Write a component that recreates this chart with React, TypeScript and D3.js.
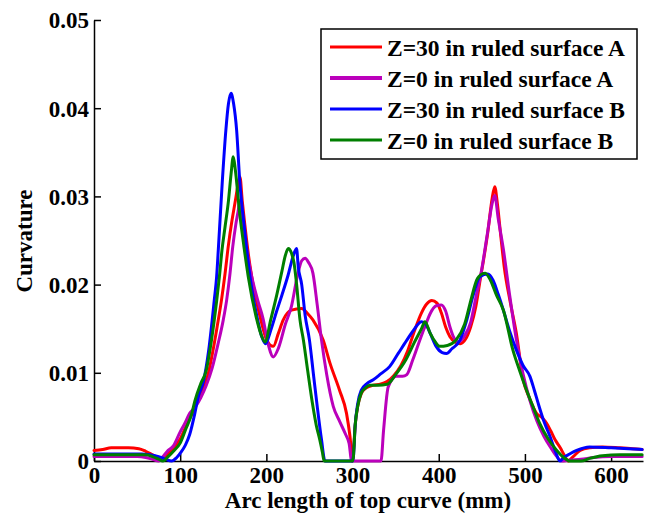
import React, { useRef, useEffect } from "react";
import * as d3 from "d3";

type Pt = [number, number];

// Z=30 in ruled surface A
const redPts: Pt[] = [
  [0, 0.0012], [10, 0.0013], [20, 0.0015], [40, 0.0015], [52, 0.0014], [60, 0.0011], [68, 0.0007], [76, 0.0003],
  [82, 0.0005], [90, 0.0012], [100, 0.0025], [108, 0.0042], [115, 0.0056], [121, 0.007], [127, 0.0085], [132, 0.0097],
  [138, 0.0125], [143, 0.0153], [148, 0.0183], [152, 0.0212], [156, 0.0245], [160, 0.0272], [164, 0.0295], [167, 0.0313],
  [169.4, 0.0322], [172, 0.0295], [175, 0.0268], [179, 0.0235], [183, 0.0209], [192.6, 0.0164], [200, 0.0138], [208, 0.013],
  [214, 0.0145], [219.6, 0.016], [229, 0.0171], [241, 0.0173], [248, 0.0167], [254, 0.016], [266, 0.0137], [273.8, 0.0111],
  [285, 0.008], [293, 0.0054], [297, 0.0028], [300, 0], [301, 0.001], [303, 0.004], [306, 0.0062], [310, 0.0076],
  [316, 0.0083], [324, 0.0086], [332, 0.0087], [340, 0.009], [348, 0.0097], [356, 0.0108], [364, 0.0125], [372, 0.0148],
  [380, 0.0168], [386, 0.0178], [392, 0.0182], [398, 0.0179], [403, 0.0168], [408, 0.0152], [413, 0.0141], [419, 0.0135],
  [425, 0.0133], [431, 0.0138], [437, 0.0152], [443, 0.0175], [448, 0.0205], [452, 0.0228], [457, 0.026], [462, 0.0298],
  [465, 0.0311], [468, 0.0292], [472, 0.0255], [476, 0.022], [483, 0.018], [490, 0.0145], [498, 0.0092], [505, 0.0072],
  [513.5, 0.0054], [520, 0.0049], [525, 0.0043], [530, 0.0034], [535, 0.0024], [541, 0.0015], [546, 0.0006], [550, 0],
  [556, 0.0005], [564, 0.0012], [575, 0.0015], [590, 0.0016], [610, 0.0015], [625, 0.0014], [636, 0.0013],
];

// Z=0 in ruled surface A
const magentaPts: Pt[] = [
  [0, 0.0005], [20, 0.0005], [50, 0.0005], [60, 0.0004], [68, 0.0002], [75, 0], [80, 0.0005], [86, 0.0012],
  [92, 0.0017], [100, 0.0033], [105, 0.0042], [111, 0.0054], [118, 0.0062], [124, 0.0072], [130, 0.0085], [137, 0.0105],
  [144, 0.0133], [150, 0.016], [154, 0.0183], [157.5, 0.021], [161, 0.0243], [164.5, 0.0268], [167.5, 0.0285], [169, 0.0295],
  [171, 0.0285], [174, 0.026], [178, 0.0235], [183, 0.0209], [190, 0.0182], [196, 0.0162], [202, 0.0133], [208, 0.0118],
  [214, 0.0128], [222, 0.0155], [229, 0.0175], [236, 0.021], [241, 0.0227], [245, 0.023], [249, 0.0225], [254, 0.0213],
  [259, 0.0177], [264, 0.0137], [270, 0.0098], [277.6, 0.0062], [285, 0.0045], [292, 0.003], [296, 0.002], [299, 0],
  [333, 0], [336, 0.0035], [341.4, 0.0084], [351, 0.0096], [358, 0.0096], [363, 0.0098], [370, 0.0115], [378, 0.0137],
  [385, 0.0155], [390, 0.0167], [397, 0.0176], [403, 0.0177], [408, 0.017], [413, 0.0152], [417, 0.0141], [423, 0.0135],
  [430, 0.0142], [437, 0.0157], [443, 0.0185], [450, 0.0218], [456, 0.0255], [462, 0.0292], [465, 0.0301], [469, 0.0275],
  [475, 0.024], [482, 0.019], [490, 0.0138], [498, 0.0098], [506, 0.0068], [514, 0.0045], [522, 0.0028], [530, 0.0015],
  [537, 0.0005], [542.5, 0], [552, 0.0001], [565, 0.0002], [580, 0.0004], [600, 0.0005], [620, 0.0005], [636, 0.0005],
];

// Z=30 in ruled surface B
const bluePts: Pt[] = [
  [0, 0.0008], [30, 0.0008], [55, 0.0008], [65, 0.0007], [75, 0.0005], [83, 0.0002], [90, 0], [96, 0.0004],
  [101, 0.001], [106, 0.0018], [111, 0.003], [117, 0.0054], [121, 0.0073], [127, 0.009], [133, 0.0125], [139.6, 0.0183],
  [142.3, 0.0209], [144.2, 0.0239], [149, 0.0319], [153, 0.0375], [156, 0.0405], [159, 0.0417], [162, 0.0405], [165.5, 0.0375],
  [169, 0.0319], [175, 0.026], [181, 0.0209], [189, 0.0164], [195, 0.014], [199, 0.0133], [205, 0.0148], [212, 0.017],
  [218, 0.0188], [225, 0.021], [231, 0.0232], [235, 0.0241], [237, 0.022], [241, 0.02], [245, 0.0165], [250, 0.0137],
  [255, 0.0095], [259, 0.0062], [264, 0.0024], [268, 0], [300, 0], [301, 0.0005], [303, 0.004], [306, 0.0065],
  [310, 0.008], [317, 0.0088], [324, 0.0092], [333, 0.0099], [343, 0.0107], [353, 0.0122], [363, 0.0137], [372, 0.015],
  [380, 0.0158], [385, 0.0155], [390, 0.0145], [397, 0.013], [404, 0.0123], [409, 0.0122], [415, 0.0127], [424.6, 0.0137],
  [432, 0.0158], [440, 0.0188], [447.8, 0.0209], [457, 0.0212], [463, 0.0205], [469, 0.0189], [475, 0.0171], [482, 0.0148],
  [490, 0.0126], [498, 0.0108], [505.8, 0.0096], [511, 0.008], [515.5, 0.0065], [522, 0.0045], [529, 0.0028], [535, 0.0012],
  [540.6, 0], [545, 0.0004], [552, 0.0008], [560, 0.0012], [575, 0.0016], [600, 0.0015], [620, 0.0014], [636, 0.0013],
];

// Z=0 in ruled surface B
const greenPts: Pt[] = [
  [0, 0.0007], [30, 0.0007], [60, 0.0007], [68, 0.0005], [75, 0.0002], [80, 0], [86, 0.0005], [93, 0.0012],
  [99.8, 0.002], [106, 0.0035], [113.5, 0.0054], [117, 0.0068], [124, 0.0088], [130, 0.0102], [136, 0.0135], [142.5, 0.0183],
  [145.5, 0.0209], [148.5, 0.0239], [152, 0.0265], [156, 0.0295], [159, 0.0325], [161.6, 0.0345], [164, 0.033], [169, 0.0281],
  [174, 0.0243], [179, 0.0209], [188, 0.0164], [194, 0.0143], [198.4, 0.0135], [205, 0.016], [212, 0.0188], [218, 0.0215],
  [222, 0.0233], [225.4, 0.0241], [229, 0.0236], [232, 0.0225], [235, 0.0201], [239, 0.016], [243, 0.0137], [248, 0.0102],
  [254, 0.0062], [258, 0.004], [262, 0.0024], [265, 0.001], [267, 0], [300, 0], [301, 0.0005], [303, 0.004],
  [306, 0.0062], [310, 0.0077], [315, 0.0083], [320, 0.0086], [330, 0.0086], [340, 0.0087], [350, 0.0098], [362, 0.0115],
  [372, 0.0135], [380, 0.015], [384, 0.0158], [390, 0.0145], [396, 0.0135], [401, 0.013], [410, 0.0131], [420, 0.0137],
  [430, 0.0155], [438, 0.0185], [444, 0.0205], [450, 0.0212], [454, 0.0213], [460, 0.0205], [467, 0.0188], [475, 0.0171],
  [486, 0.0126], [494, 0.0102], [502, 0.008], [510, 0.006], [517, 0.0043], [527, 0.0025], [537, 0.0012], [545, 0.0004],
  [552, 0], [565, 0], [575, 0.0003], [590, 0.0006], [610, 0.0007], [636, 0.0007],
];

const seriesNames = [
  "Z=30 in ruled surface A",
  "Z=0 in ruled surface A",
  "Z=30 in ruled surface B",
  "Z=0 in ruled surface B",
];
const seriesColors = ["#ff0000", "#bb00bb", "#0000ff", "#007f00"];
const seriesData = [redPts, magentaPts, bluePts, greenPts];

const xTicks = [0, 100, 200, 300, 400, 500, 600];
const yTicks = [0, 0.01, 0.02, 0.03, 0.04, 0.05];

const W = 646;
const H = 515;
const FONT = "'Liberation Serif', 'Times New Roman', serif";

export default function App() {
  const svgRef = useRef<SVGSVGElement | null>(null);

  useEffect(() => {
    if (!svgRef.current) return;
    const svg = d3.select(svgRef.current);
    svg.selectAll("*").remove();

    const x = d3.scaleLinear().domain([0, 637]).range([94, 643]);
    const y = d3.scaleLinear().domain([0, 0.05]).range([461, 20]);

    // x axis, ticks inward
    svg.append("g")
      .attr("transform", `translate(0,${y(0)})`)
      .call(d3.axisBottom(x).tickValues(xTicks).tickSizeInner(-7).tickSizeOuter(0).tickFormat((d) => String(d)))
      .call((g) => g.select(".domain").attr("stroke", "#000").attr("stroke-width", 1.5))
      .call((g) => g.selectAll(".tick line").attr("stroke", "#000").attr("stroke-width", 1.5))
      .call((g) => g.selectAll(".tick text").attr("y", 22).attr("dy", 0).attr("fill", "#000")
        .attr("font-size", "23px").attr("font-weight", "bold").attr("font-family", FONT));

    // y axis, ticks inward
    svg.append("g")
      .attr("transform", `translate(${x(0)},0)`)
      .call(d3.axisLeft(y).tickValues(yTicks).tickSizeInner(-7).tickSizeOuter(0)
        .tickFormat((d) => (+d === 0 ? "0" : d3.format(".2f")(+d))))
      .call((g) => g.select(".domain").attr("stroke", "#000").attr("stroke-width", 1.5))
      .call((g) => g.selectAll(".tick line").attr("stroke", "#000").attr("stroke-width", 1.5))
      .call((g) => g.selectAll(".tick text").attr("x", -5).attr("dy", "0.34em").attr("fill", "#000")
        .attr("font-size", "23px").attr("font-weight", "bold").attr("font-family", FONT));

    // curves
    const line = d3.line<Pt>().x((d) => x(d[0])).y((d) => y(d[1])).curve(d3.curveMonotoneX);
    seriesData.forEach((pts, i) => {
      svg.append("path").datum(pts).attr("fill", "none").attr("stroke", seriesColors[i])
        .attr("stroke-width", 3).attr("stroke-linejoin", "round").attr("stroke-linecap", "round").attr("d", line);
    });

    // axis titles
    svg.append("text").attr("x", 368).attr("y", 508).attr("text-anchor", "middle")
      .attr("font-size", "23px").attr("font-weight", "bold").attr("font-family", FONT)
      .text("Arc length of top curve (mm)");
    svg.append("text").attr("transform", "translate(32,241) rotate(-90)").attr("text-anchor", "middle")
      .attr("font-size", "23px").attr("font-weight", "bold").attr("font-family", FONT)
      .text("Curvature");

    // legend
    const lg = svg.append("g");
    lg.append("rect").attr("x", 321).attr("y", 29).attr("width", 316).attr("height", 130)
      .attr("fill", "#fff").attr("stroke", "#000").attr("stroke-width", 1.5);
    seriesNames.forEach((name, i) => {
      const cy = 47 + i * 31;
      lg.append("line").attr("x1", 330).attr("x2", 382).attr("y1", cy).attr("y2", cy)
        .attr("stroke", seriesColors[i]).attr("stroke-width", i === 1 ? 4 : 3);
      lg.append("text").attr("x", 387).attr("y", cy + 9)
        .attr("font-size", "23.5px").attr("font-weight", "bold").attr("font-family", FONT).text(name);
    });
  }, []);

  return (
    <svg ref={svgRef} width={W} height={H} style={{ position: "absolute", left: 0, top: 0, background: "#fff" }} />
  );
}
